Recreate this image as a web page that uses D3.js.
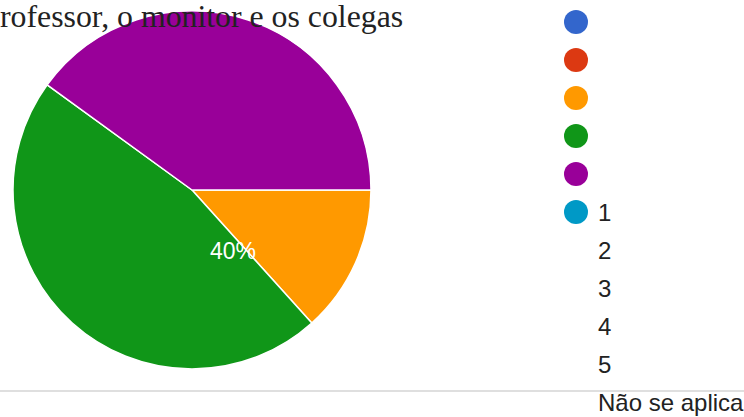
<!DOCTYPE html>
<html>
<head>
<meta charset="utf-8">
<script src="https://cdn.jsdelivr.net/npm/d3@7"></script>
<style>
  html, body { margin: 0; padding: 0; background: #fff; overflow: hidden; }
  svg { display: block; }
</style>
</head>
<body>
<svg id="chart" width="744" height="417"></svg>
<script>
// Response counts per answer option
const categories = ["1", "2", "3", "4", "5", "Não se aplica"];
const counts = [0, 0, 2, 7, 6, 0];
const colors = ["#3366cc", "#dc3912", "#ff9900", "#109618", "#990099", "#0099c6"];
const titleText = "rofessor, o monitor e os colegas";
const shownLabel = "5"; // only this slice's percentage is printed

const W = 744, H = 417;
const cx = 192, cy = 190, radius = 179;

const svg = d3.select("#chart");

const color = d3.scaleOrdinal().domain(categories).range(colors);

const data = categories.map((c, i) => ({ cat: c, value: counts[i] }));
const total = d3.sum(counts);

const pie = d3.pie()
  .sort(null)
  .value(d => d.value)
  .startAngle(Math.PI / 2)
  .endAngle(Math.PI / 2 + 2 * Math.PI);

const arc = d3.arc().innerRadius(0).outerRadius(radius);

const g = svg.append("g").attr("transform", `translate(${cx},${cy})`);

const arcs = pie(data).filter(d => d.data.value > 0);

g.selectAll("path.slice")
  .data(arcs)
  .join("path")
  .attr("class", "slice")
  .attr("d", arc)
  .attr("fill", d => color(d.data.cat))
  .attr("stroke", "#fff")
  .attr("stroke-width", 1.5)
  .attr("stroke-linejoin", "round");

// Percentage label
const fmt = d3.format(".0%");
const lab = data.find(d => d.cat === shownLabel);
g.append("text")
  .attr("x", 41)
  .attr("y", 69)
  .attr("text-anchor", "middle")
  .attr("font-family", "Liberation Sans, Arial, sans-serif")
  .attr("font-size", 23)
  .attr("fill", "#fff")
  .text(fmt(lab.value / total));

// Title, overlapping the top of the pie
svg.append("text")
  .attr("x", 0)
  .attr("y", 27)
  .attr("font-family", "Liberation Serif, Times New Roman, serif")
  .attr("font-size", 31.8)
  .attr("fill", "#222")
  .text(titleText);

// Separator line
svg.append("line")
  .attr("x1", 0).attr("x2", W)
  .attr("y1", 391).attr("y2", 391)
  .attr("stroke", "#d4d4d4")
  .attr("stroke-width", 1.5);

// Legend: swatches in one column, names continuing below them
const legX = 576, legY = 22, step = 38;
const legend = svg.append("g");
legend.selectAll("circle")
  .data(categories)
  .join("circle")
  .attr("cx", legX)
  .attr("cy", (d, i) => legY + i * step)
  .attr("r", 12)
  .attr("fill", d => color(d));

legend.selectAll("text")
  .data(categories)
  .join("text")
  .attr("x", legX + 22)
  .attr("y", (d, i) => legY + (i + categories.length - 1) * step)
  .attr("dy", "0.37em")
  .attr("font-family", "Liberation Sans, Arial, sans-serif")
  .attr("font-size", 24)
  .attr("fill", "#222")
  .text(d => d);
</script>
</body>
</html>
